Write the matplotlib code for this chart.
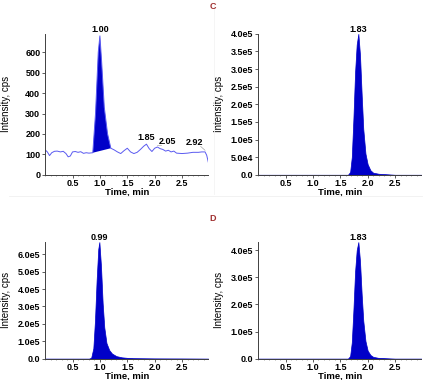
import matplotlib
matplotlib.use('Agg')
from matplotlib import pyplot as plt
from matplotlib.ticker import FixedLocator, MultipleLocator

plt.rcParams['font.family'] = ['Liberation Sans', 'DejaVu Sans']

# panel C, left: noisy analyte trace (time in min, intensity in cps)
c1_time = [0.00, 0.04, 0.08, 0.12, 0.17, 0.22, 0.28, 0.33, 0.38, 0.42, 0.46, 0.50,
           0.55, 0.60, 0.65, 0.70, 0.75, 0.80, 0.87, 0.92, 0.97, 1.00, 1.03, 1.08,
           1.14, 1.20, 1.26, 1.32, 1.38, 1.44, 1.50, 1.56, 1.62, 1.68, 1.74, 1.80,
           1.85, 1.90, 1.95, 2.00, 2.05, 2.10, 2.15, 2.20, 2.25, 2.30, 2.35, 2.40,
           2.50, 2.60, 2.70, 2.80, 2.86, 2.92, 2.95, 2.98]
c1_int = [122, 112, 94, 108, 115, 116, 112, 115, 104, 88, 92, 112,
          114, 110, 113, 105, 108, 106, 108, 300, 600, 680, 560, 330,
          200, 130, 122, 112, 104, 118, 130, 112, 104, 110, 124, 140,
          150, 128, 114, 130, 136, 128, 124, 116, 120, 112, 116, 106,
          104, 106, 110, 110, 112, 112, 96, 62]
c1_peak_start, c1_peak_end = 0.87, 1.20  # integrated peak window
# label text, peak time, label x, label y
c1_labels = [('1.00', 1.00, 1.00, 690), ('1.85', 1.85, 1.85, 160),
             ('2.05', 2.05, 2.24, 140), ('2.92', 2.92, 2.72, 135)]

# panel C, right: internal standard
c2_time = [0.0, 0.5, 1.0, 1.5, 1.64, 1.68, 1.71, 1.74, 1.77, 1.80, 1.83, 1.86, 1.89,
           1.92, 1.96, 2.00, 2.05, 2.10, 2.20, 2.30, 2.40, 2.50, 2.98]
c2_int = [0, 0, 0, 0, 0, 8e3, 5e4, 1.6e5, 2.9e5, 3.7e5, 4.0e5, 3.4e5, 2.3e5,
          1.3e5, 6e4, 3e4, 1.3e4, 6e3, 3e3, 2e3, 1e3, 0, 0]

# panel D, left: analyte
d1_time = [0.0, 0.5, 0.80, 0.84, 0.88, 0.91, 0.94, 0.97, 0.99, 1.02, 1.05, 1.08,
           1.12, 1.17, 1.22, 1.30, 1.40, 1.50, 1.60, 2.00, 2.50, 2.98]
d1_int = [0, 0, 0, 5e3, 6e4, 2.2e5, 4.5e5, 6.3e5, 6.7e5, 5.3e5, 3.2e5, 1.8e5,
          9e4, 5e4, 3e4, 1.5e4, 8e3, 5e3, 3e3, 1.5e3, 1e3, 0]

# panel D, right: internal standard
d2_time = [0.0, 0.5, 1.0, 1.5, 1.64, 1.68, 1.71, 1.74, 1.77, 1.80, 1.83, 1.86, 1.89,
           1.92, 1.96, 2.00, 2.05, 2.10, 2.20, 2.30, 2.40, 2.50, 2.98]
d2_int = [0, 0, 0, 0, 0, 1e4, 6e4, 1.8e5, 3.2e5, 4.0e5, 4.3e5, 3.6e5, 2.4e5,
          1.4e5, 6.5e4, 3e4, 1.4e4, 7e3, 3e3, 2e3, 1e3, 0, 0]

x_ticks = [0.5, 1.0, 1.5, 2.0, 2.5]
c1_yticks = [0, 100, 200, 300, 400, 500, 600]
c2_yticks = [0, 5e4, 1e5, 1.5e5, 2e5, 2.5e5, 3e5, 3.5e5, 4e5]
d1_yticks = [0, 1e5, 2e5, 3e5, 4e5, 5e5, 6e5]
d2_yticks = [0, 1e5, 2e5, 3e5, 4e5]

FILL = '#0000c8'
TRACE = '#5a5af0'
TICK_FS = 6.5


def sci(v):
    if v == 0:
        return '0.0'
    m, e = f'{v:.1e}'.split('e')
    return f'{m}e{int(e)}'


def style_axes(ax, yticks, ymax, labels):
    ax.set_xlim(0.0, 2.98)
    ax.set_ylim(0, ymax)
    for s in ('top', 'right'):
        ax.spines[s].set_visible(False)
    for s in ('left', 'bottom'):
        ax.spines[s].set_color('#404040')
        ax.spines[s].set_linewidth(0.7)
    ax.xaxis.set_major_locator(FixedLocator(x_ticks))
    ax.xaxis.set_minor_locator(MultipleLocator(0.1))
    ax.set_xticklabels([f'{t:.1f}' for t in x_ticks], fontsize=TICK_FS, fontweight='bold')
    ax.set_yticks(yticks)
    ax.set_yticklabels(labels, fontsize=TICK_FS, fontweight='bold')
    ax.tick_params(which='major', length=2, width=0.6, pad=1.5, color='#404040')
    ax.tick_params(axis='x', which='major', pad=1)
    ax.tick_params(which='minor', length=1, width=0.5, color='#808080')
    ax.set_xlabel('Time, min', fontsize=6.8, fontweight='bold', labelpad=0)
    ax.set_ylabel('Intensity, cps', fontsize=7)
    ax.yaxis.set_label_coords(-0.21, 0.5)


fig = plt.figure(figsize=(4.26, 3.80), dpi=100)
w = 0.383
ax_c1 = fig.add_axes([0.106, 0.540, w, 0.371])
ax_c2 = fig.add_axes([0.606, 0.540, w, 0.371])
ax_d1 = fig.add_axes([0.106, 0.056, w, 0.307])
ax_d2 = fig.add_axes([0.606, 0.056, w, 0.307])

# faint panel separators
fig.add_artist(plt.Line2D([0.02, 0.99], [0.484, 0.484], color='#f0f0f0', lw=0.6))
fig.add_artist(plt.Line2D([0.503, 0.503], [0.49, 0.99], color='#f4f4f4', lw=0.6))

# C left
ax_c1.plot(c1_time, c1_int, color=TRACE, lw=0.7)
pk = [i for i, t in enumerate(c1_time) if c1_peak_start <= t <= c1_peak_end]
ax_c1.fill([c1_time[i] for i in pk], [c1_int[i] for i in pk], color=FILL, lw=0)
for txt, t_peak, tx, ty in c1_labels:
    ax_c1.text(tx, ty, txt, ha='center', va='bottom', fontsize=TICK_FS,
               fontweight='bold', clip_on=False)
    if abs(tx - t_peak) > 0.05:
        y_peak = c1_int[c1_time.index(t_peak)]
        edge = tx - 0.12 if tx > t_peak else tx + 0.12
        ax_c1.plot([t_peak, edge], [y_peak + 8, ty + 4], color='#909090', lw=0.4)
style_axes(ax_c1, c1_yticks, 690, [str(v) for v in c1_yticks])

# C right
ax_c2.fill_between(c2_time, c2_int, color=FILL, lw=0.5)
ax_c2.text(1.83, 4.0e5, '1.83', ha='center', va='bottom', fontsize=TICK_FS, fontweight='bold')
style_axes(ax_c2, c2_yticks, 4.0e5, [sci(v) for v in c2_yticks])

# D left
ax_d1.fill_between(d1_time, d1_int, color=FILL, lw=0.5)
ax_d1.text(0.99, 6.7e5, '0.99', ha='center', va='bottom', fontsize=TICK_FS, fontweight='bold')
style_axes(ax_d1, d1_yticks, 6.7e5, [sci(v) for v in d1_yticks])

# D right
ax_d2.fill_between(d2_time, d2_int, color=FILL, lw=0.5)
ax_d2.text(1.83, 4.3e5, '1.83', ha='center', va='bottom', fontsize=TICK_FS, fontweight='bold')
style_axes(ax_d2, d2_yticks, 4.3e5, [sci(v) for v in d2_yticks])

fig.text(0.5, 0.982, 'C', color='#a03030', fontsize=6.5, fontweight='bold', ha='center', va='center')
fig.text(0.5, 0.426, 'D', color='#a03030', fontsize=6.5, fontweight='bold', ha='center', va='center')

fig.savefig('out.png', dpi=100)
